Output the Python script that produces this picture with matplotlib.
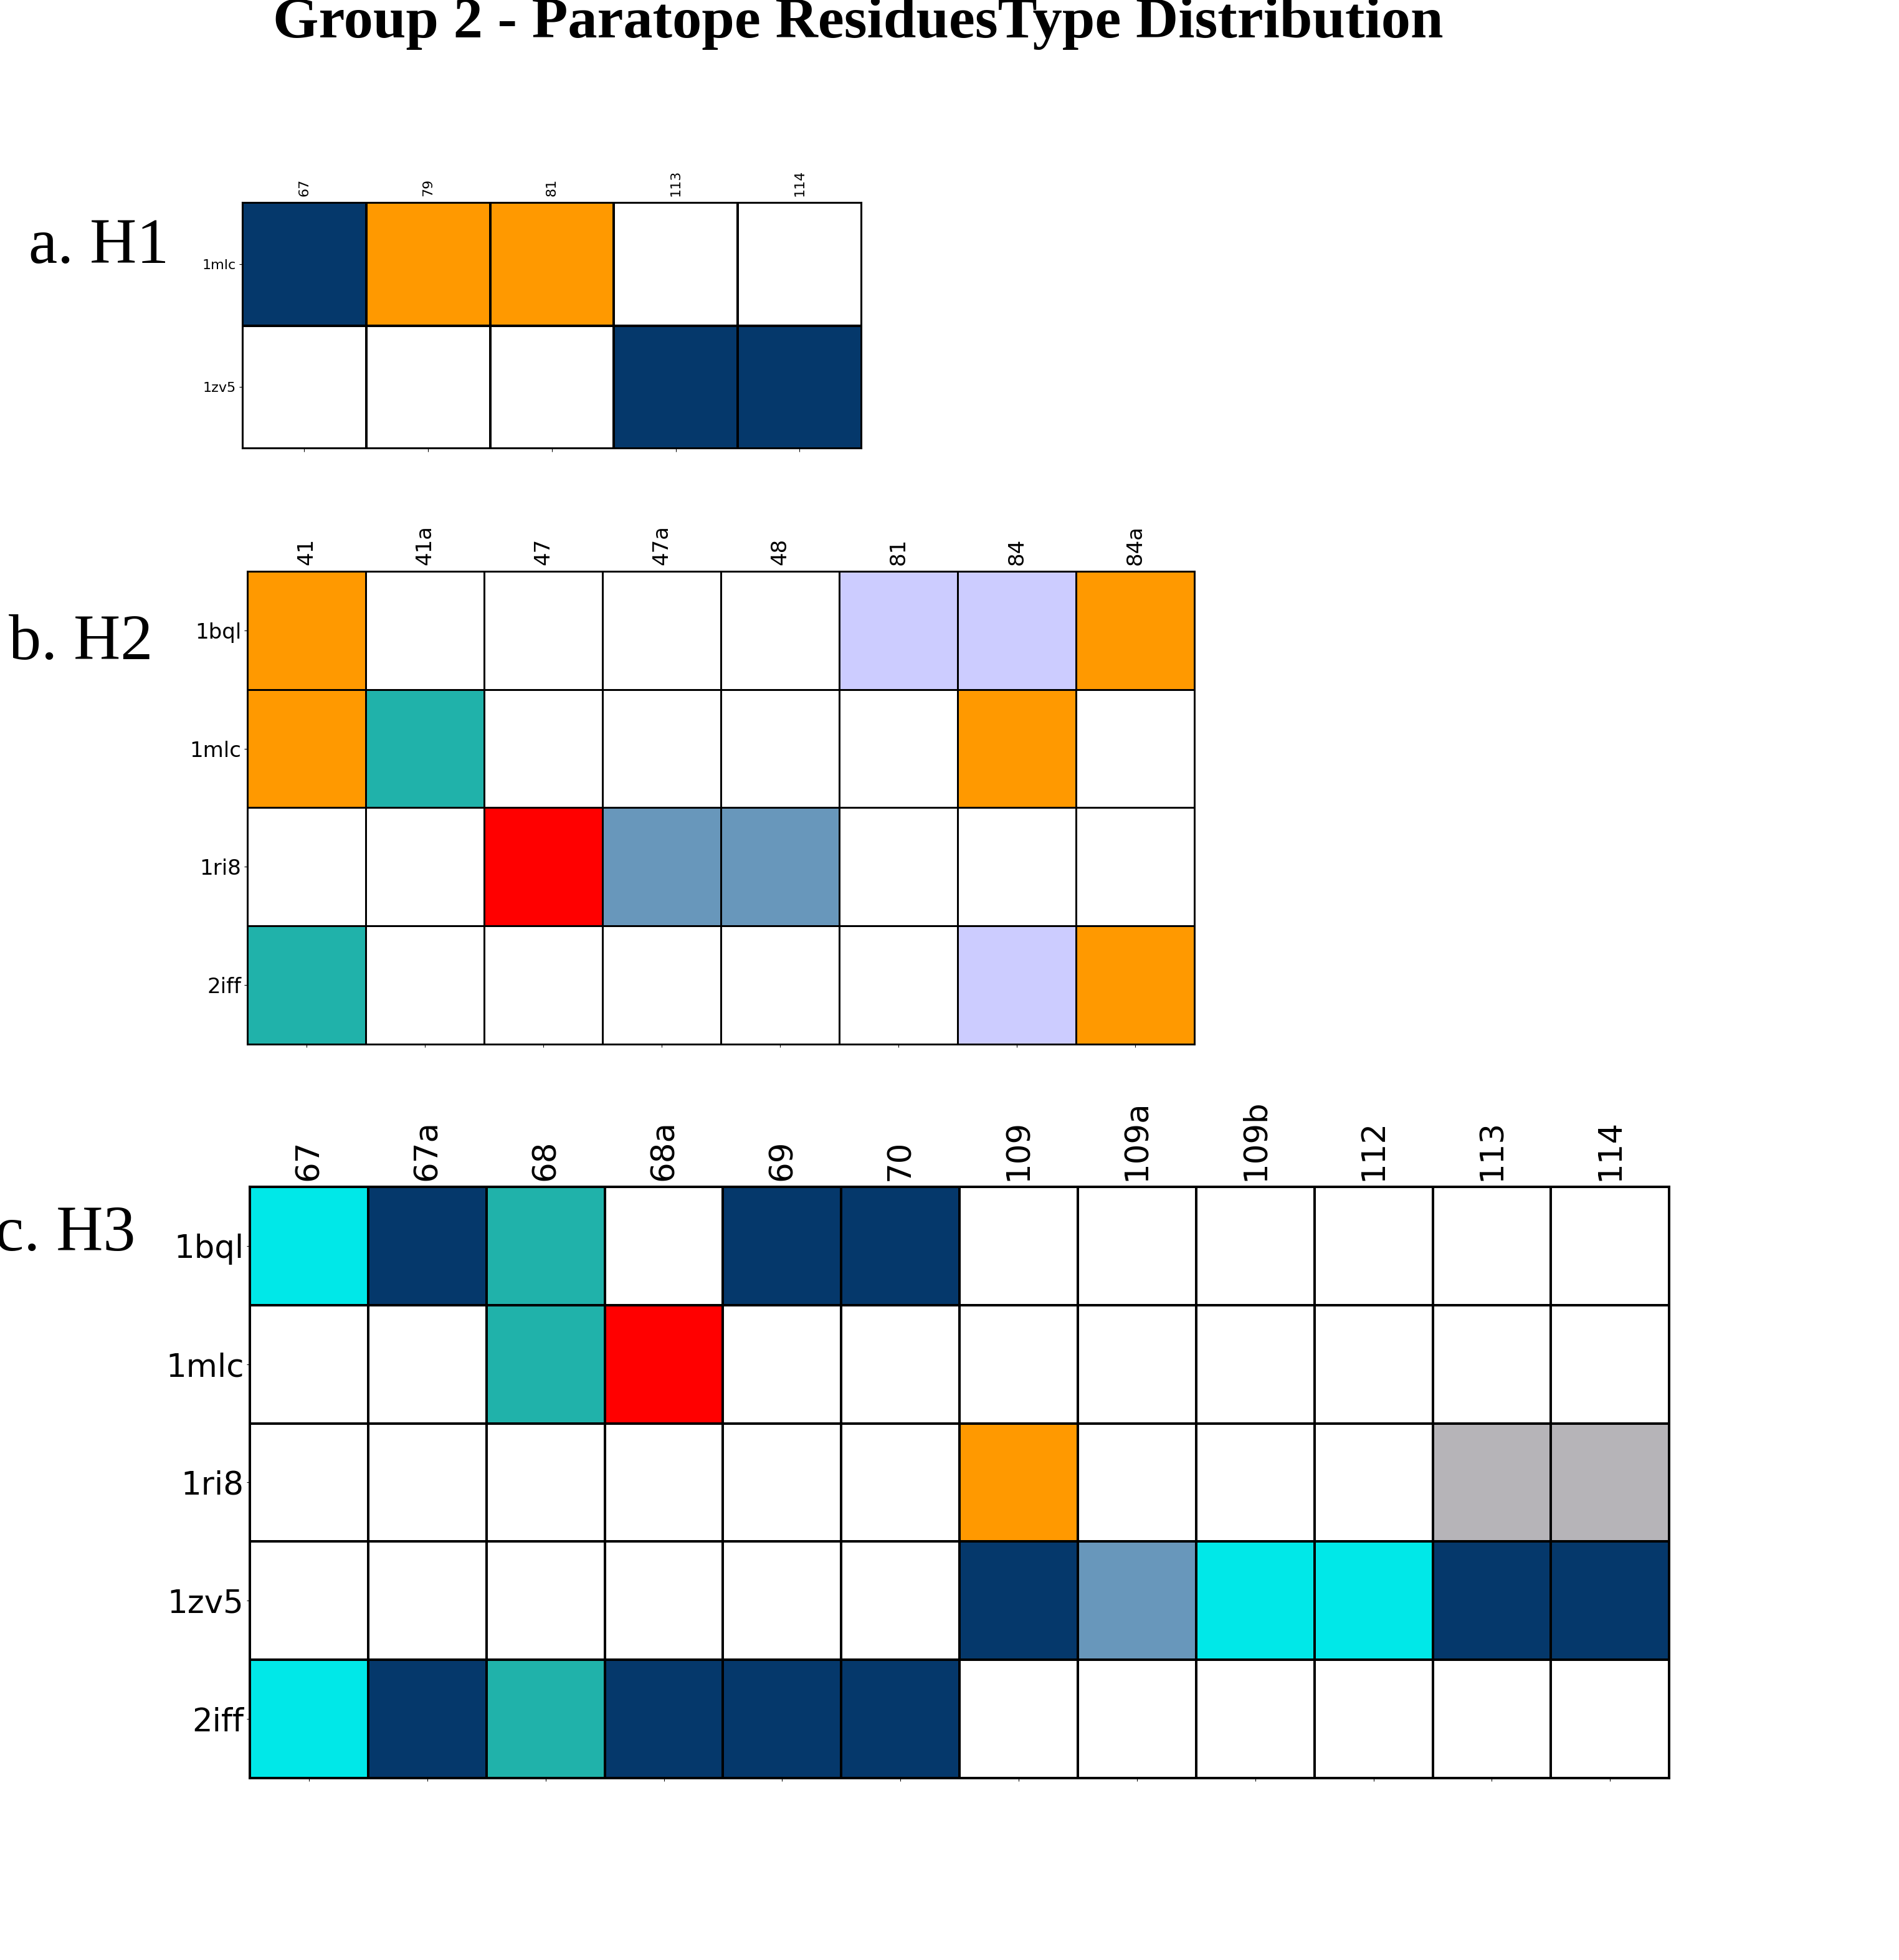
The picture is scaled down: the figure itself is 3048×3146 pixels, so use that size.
import matplotlib
matplotlib.use('Agg')
import matplotlib.pyplot as plt
from matplotlib.colors import ListedColormap, BoundaryNorm
import numpy as np

# Residue type colours (keys are the codes used in the tables below)
type_colors = {
    '-': '#FFFFFF',   # no contact
    'N': '#05386B',   # navy
    'O': '#FF9900',   # orange
    'L': '#CCCCFF',   # lavender
    'T': '#20B2AA',   # teal
    'R': '#FF0000',   # red
    'S': '#6897BB',   # steel blue
    'C': '#00E8E8',   # cyan
    'G': '#B6B4B8',   # gray
}
type_codes = list(type_colors.keys())

# a. H1
h1_cols = ['67', '79', '81', '113', '114']
h1_rows = ['1mlc', '1zv5']
h1_1mlc = ['N', 'O', 'O', '-', '-']
h1_1zv5 = ['-', '-', '-', 'N', 'N']

# b. H2
h2_cols = ['41', '41a', '47', '47a', '48', '81', '84', '84a']
h2_rows = ['1bql', '1mlc', '1ri8', '2iff']
h2_1bql = ['O', '-', '-', '-', '-', 'L', 'L', 'O']
h2_1mlc = ['O', 'T', '-', '-', '-', '-', 'O', '-']
h2_1ri8 = ['-', '-', 'R', 'S', 'S', '-', '-', '-']
h2_2iff = ['T', '-', '-', '-', '-', '-', 'L', 'O']

# c. H3
h3_cols = ['67', '67a', '68', '68a', '69', '70', '109', '109a', '109b', '112', '113', '114']
h3_rows = ['1bql', '1mlc', '1ri8', '1zv5', '2iff']
h3_1bql = ['C', 'N', 'T', '-', 'N', 'N', '-', '-', '-', '-', '-', '-']
h3_1mlc = ['-', '-', 'T', 'R', '-', '-', '-', '-', '-', '-', '-', '-']
h3_1ri8 = ['-', '-', '-', '-', '-', '-', 'O', '-', '-', '-', 'G', 'G']
h3_1zv5 = ['-', '-', '-', '-', '-', '-', 'N', 'S', 'C', 'C', 'N', 'N']
h3_2iff = ['C', 'N', 'T', 'N', 'N', 'N', '-', '-', '-', '-', '-', '-']

cmap = ListedColormap([type_colors[k] for k in type_codes])
norm = BoundaryNorm(np.arange(len(type_codes) + 1) - 0.5, cmap.N)


def draw_panel(ax, rows, cols, table, fsize, lw):
    z = np.array([[type_codes.index(v) for v in r] for r in table])
    ax.pcolormesh(np.arange(len(cols) + 1), np.arange(len(rows) + 1), z,
                  cmap=cmap, norm=norm, edgecolors='black', linewidth=lw)
    ax.set_xlim(0, len(cols))
    ax.set_ylim(len(rows), 0)
    ax.set_xticks(np.arange(len(cols)) + 0.5)
    ax.set_xticklabels(cols, rotation=90, fontsize=fsize)
    ax.set_yticks(np.arange(len(rows)) + 0.5)
    ax.set_yticklabels(rows, fontsize=fsize)
    ax.tick_params(axis='x', labeltop=True, labelbottom=False, top=False)
    for s in ax.spines.values():
        s.set_linewidth(lw)


fig = plt.figure(figsize=(30.48, 31.46), dpi=100)

ax_a = fig.add_axes([0.1276, 0.7711, 0.3261, 0.1256])
draw_panel(ax_a, h1_rows, h1_cols, [h1_1mlc, h1_1zv5], 16, 1.5)

ax_b = fig.add_axes([0.1302, 0.4673, 0.4987, 0.2412])
draw_panel(ax_b, h2_rows, h2_cols, [h2_1bql, h2_1mlc, h2_1ri8, h2_2iff], 24.5, 2.1)

ax_c = fig.add_axes([0.1316, 0.0928, 0.7474, 0.3017])
draw_panel(ax_c, h3_rows, h3_cols, [h3_1bql, h3_1mlc, h3_1ri8, h3_1zv5, h3_2iff], 37, 2.8)

serif = ['Liberation Serif', 'DejaVu Serif']
fig.text(0.452, 0.981, 'Group 2 - Paratope ResiduesType Distribution',
         ha='center', va='baseline', fontsize=68, fontweight='bold', family=serif)
fig.text(0.0889, 0.866, 'a. H1', ha='right', va='baseline', fontsize=75, family=serif)
fig.text(0.0804, 0.6637, 'b. H2', ha='right', va='baseline', fontsize=75, family=serif)
fig.text(0.0712, 0.362, 'c. H3', ha='right', va='baseline', fontsize=75, family=serif)

fig.savefig('out.png', dpi=100)
